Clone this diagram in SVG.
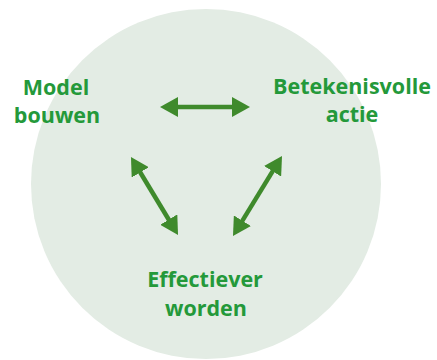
<svg xmlns="http://www.w3.org/2000/svg" width="437" height="360" viewBox="0 0 437 360">
<style>
.lbl{font-family:"Open Sans","Liberation Sans",sans-serif;font-weight:700;font-size:21.5px;fill:#24993a;text-anchor:middle}
.arr{stroke:#3f8a2c;stroke-width:4.5;fill:none;marker-start:url(#ah);marker-end:url(#ah)}
</style>
<defs>
<marker id="ah" markerUnits="userSpaceOnUse" markerWidth="18" markerHeight="20" viewBox="0 0 18 20" refX="4" refY="10" orient="auto-start-reverse">
<path d="M0,0 L18,10 L0,20 z" fill="#3f8a2c"/>
</marker>
</defs>
<rect width="437" height="360" fill="#ffffff"/>
<circle cx="206" cy="184" r="175" fill="#e3ece4"/>
<g id="model"><text class="lbl" x="56" y="95">Model</text><text class="lbl" x="57" y="123">bouwen</text></g>
<g id="actie"><text class="lbl" x="352" y="94">Betekenisvolle</text><text class="lbl" x="352" y="122">actie</text></g>
<g id="effectiever"><text class="lbl" x="205" y="287">Effectiever</text><text class="lbl" x="206" y="316">worden</text></g>
<g id="connectors">
<line class="arr" x1="174" y1="107" x2="236" y2="107"/>
<line class="arr" x1="138.2" y1="169" x2="170.8" y2="223"/>
<line class="arr" x1="274.7" y1="167.9" x2="240.3" y2="224.1"/>
</g>
</svg>
